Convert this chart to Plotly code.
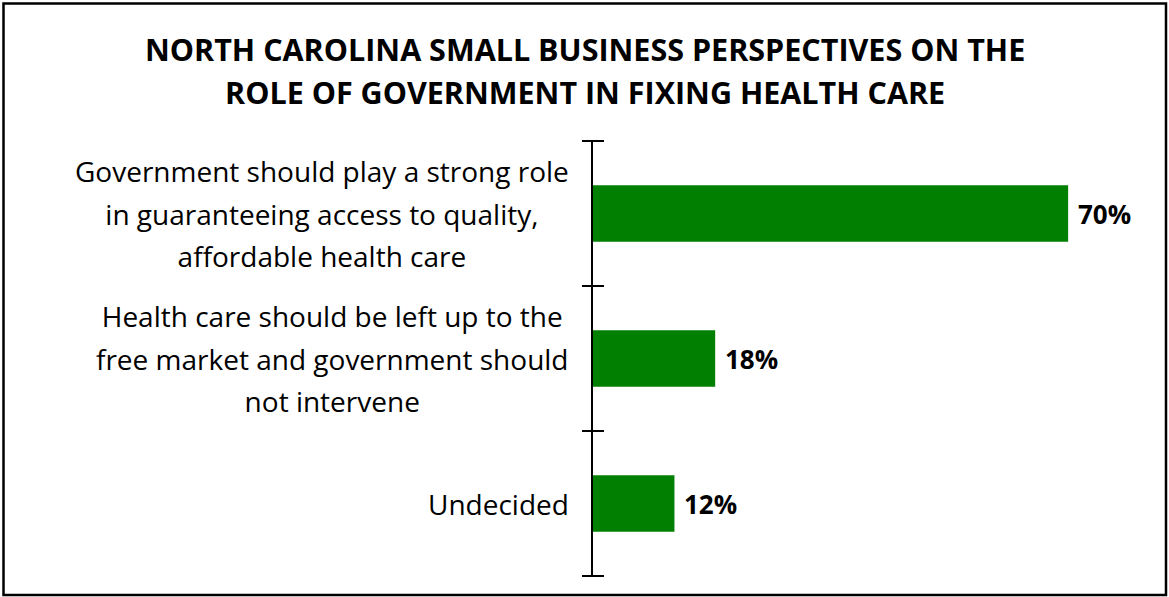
import plotly.graph_objects as go

# Survey responses (top to bottom)
categories = [
    "Government should play a strong role<br>in guaranteeing access to quality,<br>affordable health care",
    "Health care should be left up to the<br>free market and government should<br>not intervene",
    "Undecided",
]
values = [70, 18, 12]
value_labels = ["70%", "18%", "12%"]

title_lines = [
    "NORTH CAROLINA SMALL BUSINESS PERSPECTIVES ON THE",
    "ROLE OF GOVERNMENT IN FIXING HEALTH CARE",
]

W, H = 1169, 597
ml, mr, mt, mb = 593, 33, 140, 20
plot_w, plot_h = W - ml - mr, H - mt - mb

FONT = "Open Sans"
GREEN = "#007F00"
LABEL_SIZE = 28
LINE_FONT = 32.7  # sets the gap between wrapped lines
TITLE_SIZE = 30.5
TITLE_LINE_FONT = 33
VALUE_SIZE = 26


def spaced(lines_html, size):
    # wrap each line so the text is drawn at `size` while lines keep a wider pitch
    return "<br>".join(
        f"<span style='font-size:{size}px'>{ln}</span>" for ln in lines_html.split("<br>")
    )


fig = go.Figure()
fig.add_trace(
    go.Bar(
        x=values,
        y=categories,
        orientation="h",
        marker=dict(color=GREEN, line=dict(width=0)),
        hoverinfo="skip",
        showlegend=False,
    )
)

# category labels, centred line by line and right-aligned as a block
for cat in categories:
    fig.add_annotation(
        x=0, xref="paper", y=cat, yref="y",
        xanchor="right", yanchor="middle", xshift=-22,
        text=spaced(cat, LABEL_SIZE), align="center", showarrow=False,
        font=dict(family=FONT, size=LINE_FONT, color="#000000"),
    )

# value labels at the end of each bar
for cat, v, lab in zip(categories, values, value_labels):
    fig.add_annotation(
        x=v, xref="x", y=cat, yref="y",
        xanchor="left", yanchor="middle", xshift=8,
        text=f"<b>{lab}</b>", showarrow=False,
        font=dict(family=FONT, size=VALUE_SIZE, color="#000000"),
    )

# title
fig.add_annotation(
    x=(W / 2 - ml) / plot_w, xref="paper",
    y=(H - 71 - mb) / plot_h, yref="paper",
    xanchor="center", yanchor="middle",
    text=spaced("<br>".join(f"<b>{t}</b>" for t in title_lines), TITLE_SIZE),
    align="center", showarrow=False,
    font=dict(family=FONT, size=TITLE_LINE_FONT, color="#000000"),
)

# tick marks crossing the category axis at every category boundary
for i in range(len(categories) + 1):
    fig.add_shape(
        type="line", xref="paper", xsizemode="pixel", xanchor=0,
        x0=-11, x1=11, yref="y", y0=i - 0.5, y1=i - 0.5,
        line=dict(color="#000000", width=2),
    )

# outer frame
fig.add_shape(
    type="rect", xref="paper", yref="paper",
    x0=(3.5 - ml) / plot_w, x1=(W - 3 - ml) / plot_w,
    y0=(2 - mb) / plot_h, y1=(H - 3.5 - mb) / plot_h,
    line=dict(color="#000000", width=2.5), fillcolor="rgba(0,0,0,0)",
)

fig.update_layout(
    width=W, height=H,
    margin=dict(l=ml, r=mr, t=mt, b=mb),
    paper_bgcolor="#FFFFFF",
    plot_bgcolor="#FFFFFF",
    bargap=0.61,
    xaxis=dict(range=[0, 80], visible=False, fixedrange=True),
    yaxis=dict(
        type="category",
        autorange="reversed",
        showgrid=False,
        zeroline=False,
        showticklabels=False,
        ticks="",
        showline=True,
        linecolor="#000000",
        linewidth=2,
        fixedrange=True,
    ),
    font=dict(family=FONT, color="#000000"),
)

fig.write_html("out.html", config={"displayModeBar": False})
